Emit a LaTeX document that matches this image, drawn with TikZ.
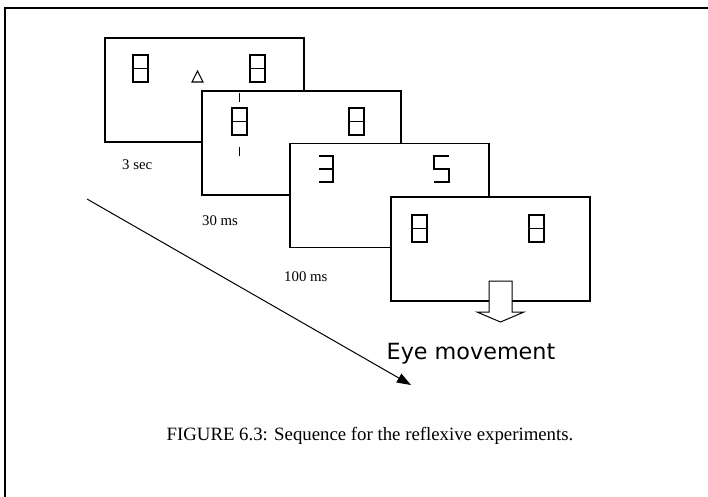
\documentclass[tikz,border=0pt]{standalone}
\usepackage{fontspec}
\setmainfont{Liberation Serif}
\newfontfamily\eyefont{DejaVu Sans}
\usetikzlibrary{arrows.meta}
\tikzset{
  screen/.style={draw, line width=1.2pt, fill=white, minimum width=199pt, minimum height=104pt, inner sep=0pt},
  seg/.style={line width=1.4pt},
  lbl/.style={font=\fontsize{14.8}{16}\selectfont, inner sep=0pt, anchor=base west},
  eight/.pic={\draw[seg] (0,0) rectangle (15,27); \draw[seg] (0,13.5) -- (15,13.5);}
}
\begin{document}
\begin{tikzpicture}[x=1pt,y=-1pt]
\useasboundingbox (0,0) rectangle (708,496);
\clip (0,0) rectangle (708,496);
\draw[line width=1.6pt] (5,510) -- (5,8) -- (720,8);
% screen 1
\node[screen] (s1) at (204.5,90) {};
\pic at (133,55) {eight};
\pic at (250,55) {eight};
\draw[line width=1.1pt] (192,82) -- (197.5,71) -- (203,82) -- cycle;
% screen 2
\node[screen] (s2) at (301.5,143) {};
\pic at (232,108) {eight};
\pic at (349,108) {eight};
\draw[seg] (239.5,93) -- (239.5,102);
\draw[seg] (239.5,147) -- (239.5,156);
% screen 3
\node[screen] (s3) at (389.5,195.5) {};
\draw[seg] (319,156) -- (333,156) -- (333,182) -- (319,182);
\draw[seg] (319,169) -- (333,169);
\draw[seg] (449,156) -- (434,156) -- (434,169) -- (449,169) -- (449,182) -- (434,182);
% screen 4
\node[screen] (s4) at (490.5,249) {};
\pic at (412,215) {eight};
\pic at (529,215) {eight};
% block arrow
\draw[line width=1pt, fill=white] (489,281) -- (512,281) -- (512,312) -- (524,312) -- (500.5,322) -- (477,312) -- (489,312) -- cycle;
% labels
\node[lbl] (t1) at (122,169) {3 sec};
\node[lbl] (t2) at (202,225) {30 ms};
\node[lbl] (t3) at (284,281) {100 ms};
\node[anchor=base, inner sep=0pt, font=\eyefont\fontsize{22.3}{25}\selectfont] (eye) at (471,359) {Eye movement};
% time arrow
\coordinate (d0) at (87,199);
\coordinate (d1) at (411,385);
\draw[line width=1pt, -{Triangle[length=14pt,width=10pt]}] (d0) -- (d1);
% caption
\node[anchor=base, inner sep=0pt, font=\fontsize{18.8}{20}\selectfont] (cap) at (370,440) {FIGURE 6.3: Sequence for the reflexive experiments.};
\end{tikzpicture}
\end{document}
